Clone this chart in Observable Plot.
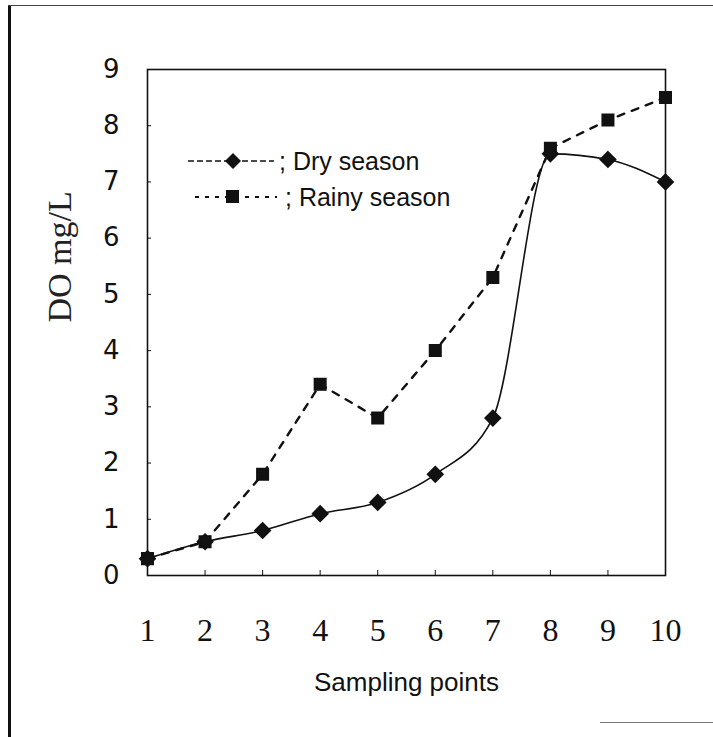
<!DOCTYPE html>
<html>
<head>
<meta charset="utf-8">
<script src="https://cdn.jsdelivr.net/npm/d3@7"></script>
<script src="https://cdn.jsdelivr.net/npm/@observablehq/plot@0.6"></script>
<style>
  html, body { margin: 0; padding: 0; background: white; }
  #wrap { position: relative; width: 713px; height: 737px; overflow: hidden; background: white; }
  #border-left { position: absolute; left: 8px; top: 5px; width: 3px; height: 732px; background: #111; }
  #border-top { position: absolute; left: 8px; top: 5px; width: 705px; height: 1px; background: #444; }
  #border-bot { position: absolute; left: 600px; top: 722px; width: 113px; height: 1px; background: #777; }
  #legend { position: absolute; left: 185px; top: 143px; font-family: "Liberation Sans", Arial, sans-serif; font-size: 25px; color: #111; }
  .row { display: flex; align-items: center; height: 36px; }
  .row svg { margin-right: 2px; }
</style>
</head>
<body>
<div id="wrap">
  <div id="chart"></div>
  <div id="border-left"></div>
  <div id="border-top"></div>
  <div id="border-bot"></div>
  <div id="legend"></div>
</div>
<script>
const samplingPoints = [1, 2, 3, 4, 5, 6, 7, 8, 9, 10];
const drySeason = [0.3, 0.6, 0.8, 1.1, 1.3, 1.8, 2.8, 7.5, 7.4, 7.0];
const rainySeason = [0.3, 0.6, 1.8, 3.4, 2.8, 4.0, 5.3, 7.6, 8.1, 8.5];
const yTicks = [0, 1, 2, 3, 4, 5, 6, 7, 8, 9];
const xTicks = [1, 2, 3, 4, 5, 6, 7, 8, 9, 10];
const seriesNames = ["; Dry season", "; Rainy season"];

const dryRows = samplingPoints.map((p, i) => ({point: p, value: drySeason[i]}));
const rainyRows = samplingPoints.map((p, i) => ({point: p, value: rainySeason[i]}));

const chart = Plot.plot({
  width: 713,
  height: 737,
  marginLeft: 147,
  marginRight: 48,
  marginTop: 69,
  marginBottom: 162,
  style: {background: "white", color: "#111"},
  x: {domain: [1, 10]},
  y: {domain: [0, 9]},
  marks: [
    Plot.frame({stroke: "#111", strokeWidth: 1.6}),
    Plot.axisY({ticks: yTicks, tickSize: 0, tickPadding: 28, fontSize: 26, fontFamily: "DejaVu Sans", label: null, tickFormat: d => String(d)}),
    Plot.axisY({ticks: yTicks, tickSize: -4, text: null, label: null}),
    Plot.axisX({ticks: xTicks, tickSize: 0, tickPadding: 43, fontSize: 32, fontFamily: "Liberation Serif", label: null, tickFormat: d => String(d)}),
    Plot.axisX({ticks: xTicks, tickSize: -5, text: null, label: null}),
    Plot.text(["Sampling points"], {frameAnchor: "bottom", dy: 115, fontSize: 26, fontFamily: "Liberation Sans", fill: "#111"}),
    Plot.text(["DO mg/L"], {frameAnchor: "left", dx: -87, rotate: -90, fontSize: 34, fontFamily: "Liberation Serif", fill: "#222"}),
    Plot.line(rainyRows, {x: "point", y: "value", stroke: "#111", strokeWidth: 2.4, strokeDasharray: "7,8"}),
    Plot.line(dryRows, {x: "point", y: "value", stroke: "#111", strokeWidth: 1.6, curve: "monotone-x"}),
    Plot.dot(rainyRows, {x: "point", y: "value", symbol: "square", r: 6.5, fill: "#111", stroke: "#111"}),
    Plot.dot(dryRows, {x: "point", y: "value", symbol: "diamond2", r: 7, fill: "#111", stroke: "#111"})
  ]
});
document.getElementById("chart").appendChild(chart);

const legend = document.getElementById("legend");
legend.innerHTML = `
  <div class="row"><svg width="92" height="24"><line x1="3" y1="12" x2="89" y2="12" stroke="#111" stroke-width="1.4" stroke-dasharray="6,3"/><path d="M48,4 L56,12 L48,20 L40,12 Z" fill="#111"/></svg><span>${seriesNames[0]}</span></div>
  <div class="row"><svg width="98" height="24"><line x1="10" y1="12" x2="92" y2="12" stroke="#111" stroke-width="2" stroke-dasharray="4,6"/><rect x="41" y="5" width="13" height="13" fill="#111"/></svg><span>${seriesNames[1]}</span></div>
`;
</script>
</body>
</html>
